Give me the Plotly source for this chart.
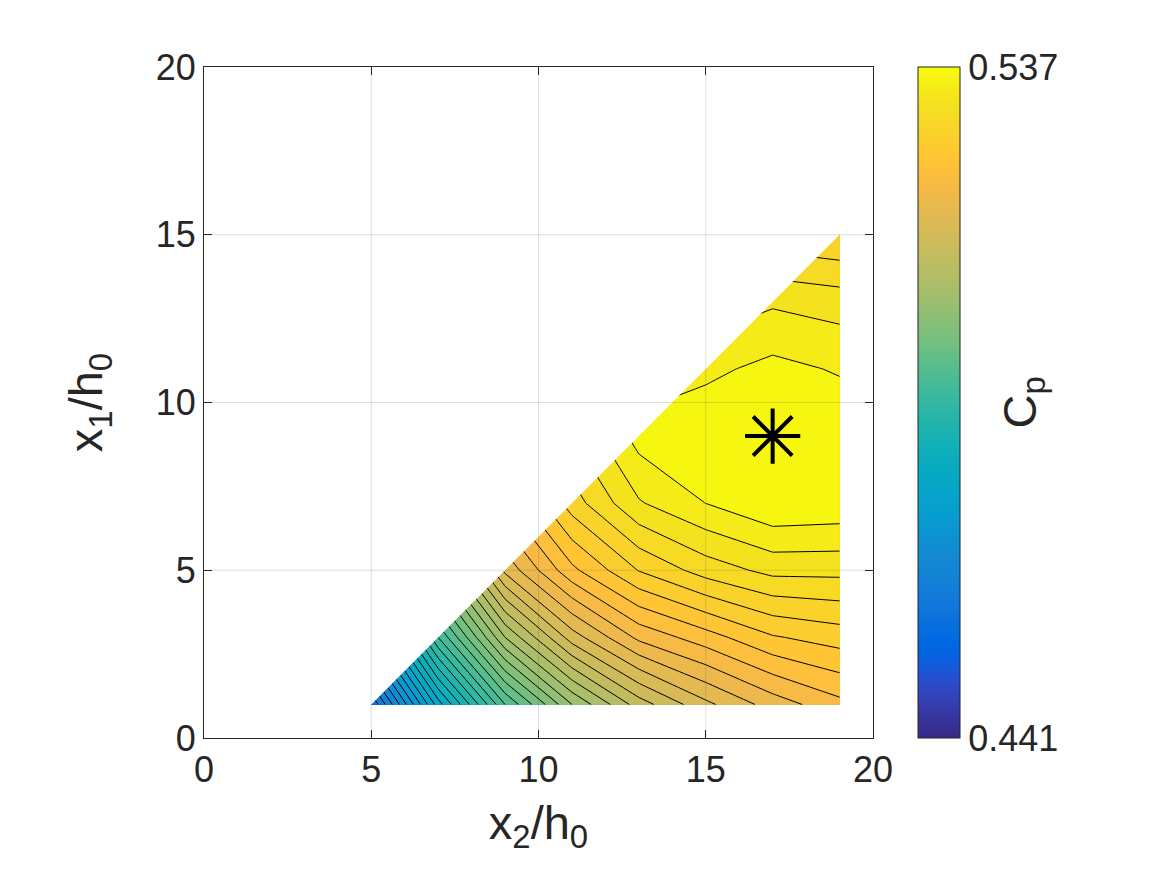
import numpy as np
import plotly.graph_objects as go

# ---------------- data ----------------
X2 = [5, 7, 9, 11, 13, 15, 17, 19]          # x2/h0 grid
X1 = [1, 3, 5, 7, 9, 11, 13, 15]            # x1/h0 grid
# Cp values, one row per x1 value, columns follow X2 (None = outside domain)
CP_X1_1 = [0.4590, 0.4780, 0.4930, 0.5030, 0.5100, 0.5145, 0.5179, 0.5204]
CP_X1_3 = [None, 0.4910, 0.5050, 0.5140, 0.5195, 0.5221, 0.5248, 0.5259]
CP_X1_5 = [None, None, 0.5155, 0.5225, 0.5271, 0.5299, 0.5316, 0.5316]
CP_X1_7 = [None, None, None, 0.5280, 0.5328, 0.53502, 0.5368, 0.5365]
CP_X1_9 = [None, None, None, None, 0.5358, 0.5366, 0.5369, 0.5366]
CP_X1_11 = [None, None, None, None, None, 0.5345, 0.5356, 0.5348]
CP_X1_13 = [None, None, None, None, None, None, 0.5327, 0.5321]
CP_X1_15 = [None, None, None, None, None, None, None, 0.5271]

AXIS_TICKS = [0, 5, 10, 15, 20]
CBAR_TICKS = [0.441, 0.537]
LEVEL_STEP = 0.002

CP = [CP_X1_1, CP_X1_3, CP_X1_5, CP_X1_7, CP_X1_9, CP_X1_11, CP_X1_13, CP_X1_15]

PARULA = [
    [0.2081, 0.1663, 0.5292], [0.2116, 0.1898, 0.5777], [0.2123, 0.2138, 0.6270], [0.2081, 0.2386, 0.6771],
    [0.1959, 0.2645, 0.7279], [0.1707, 0.2919, 0.7792], [0.1253, 0.3242, 0.8303], [0.0591, 0.3598, 0.8683],
    [0.0117, 0.3875, 0.8820], [0.0060, 0.4086, 0.8828], [0.0165, 0.4266, 0.8786], [0.0329, 0.4430, 0.8720],
    [0.0498, 0.4586, 0.8641], [0.0629, 0.4737, 0.8554], [0.0723, 0.4887, 0.8467], [0.0779, 0.5040, 0.8384],
    [0.0793, 0.5200, 0.8312], [0.0749, 0.5375, 0.8263], [0.0641, 0.5570, 0.8240], [0.0488, 0.5772, 0.8228],
    [0.0343, 0.5966, 0.8199], [0.0265, 0.6137, 0.8135], [0.0239, 0.6287, 0.8038], [0.0231, 0.6418, 0.7913],
    [0.0228, 0.6535, 0.7768], [0.0267, 0.6642, 0.7607], [0.0384, 0.6743, 0.7436], [0.0590, 0.6838, 0.7254],
    [0.0843, 0.6928, 0.7062], [0.1133, 0.7015, 0.6859], [0.1453, 0.7098, 0.6646], [0.1801, 0.7177, 0.6424],
    [0.2178, 0.7250, 0.6193], [0.2586, 0.7317, 0.5954], [0.3022, 0.7376, 0.5712], [0.3482, 0.7424, 0.5473],
    [0.3953, 0.7459, 0.5244], [0.4420, 0.7481, 0.5033], [0.4871, 0.7491, 0.4840], [0.5300, 0.7491, 0.4661],
    [0.5709, 0.7485, 0.4494], [0.6099, 0.7473, 0.4337], [0.6473, 0.7456, 0.4188], [0.6834, 0.7435, 0.4044],
    [0.7184, 0.7411, 0.3905], [0.7525, 0.7384, 0.3768], [0.7858, 0.7356, 0.3633], [0.8185, 0.7327, 0.3498],
    [0.8507, 0.7299, 0.3360], [0.8824, 0.7274, 0.3217], [0.9139, 0.7258, 0.3063], [0.9450, 0.7261, 0.2886],
    [0.9739, 0.7314, 0.2666], [0.9938, 0.7455, 0.2403], [0.9990, 0.7653, 0.2164], [0.9955, 0.7861, 0.1967],
    [0.9880, 0.8066, 0.1794], [0.9789, 0.8271, 0.1633], [0.9697, 0.8481, 0.1475], [0.9626, 0.8705, 0.1309],
    [0.9589, 0.8949, 0.1132], [0.9598, 0.9218, 0.0948], [0.9661, 0.9514, 0.0755], [0.9763, 0.9831, 0.0538],
]
n = len(PARULA)
colorscale = [[i / (n - 1), "rgb(%d,%d,%d)" % tuple(int(round(c * 255)) for c in rgb)]
              for i, rgb in enumerate(PARULA)]

zmin, zmax = CBAR_TICKS[0], CBAR_TICKS[-1]
Z = np.array([[np.nan if v is None else v for v in row] for row in CP], dtype=float)

# Rendering aid (hidden under the mask): for the cells cut by the diagonal edge,
# give the masked corner the value of the plane through the 3 valid corners, so the
# visible half-cell is interpolated linearly on its triangle (as MATLAB does).
Zr = Z.copy()
for i in range(1, Z.shape[0]):
    for j in range(Z.shape[1] - 1):
        if np.isnan(Z[i, j]) and not np.isnan(Z[i - 1, j]) and not np.isnan(Z[i, j + 1]) \
                and not np.isnan(Z[i - 1, j + 1]):
            Zr[i, j] = Z[i - 1, j] + Z[i, j + 1] - Z[i - 1, j + 1]

AX_COLOR = "#262626"
FONT = "Liberation Sans, Arial, Helvetica, sans-serif"
TICK_SIZE = 36
LABEL_SIZE = 47

fig = go.Figure()

fig.add_trace(go.Contour(
    x=X2, y=X1, z=Zr,
    connectgaps=True,
    zmin=zmin, zmax=zmax, zauto=False,
    colorscale=colorscale,
    contours=dict(start=zmin, end=zmax, size=LEVEL_STEP, coloring="fill", showlines=True),
    line=dict(color="black", width=1, smoothing=0),
    showscale=False,
    hoverinfo="skip",
))

# white mask above the diagonal edge of the (triangular) data domain
xl, xh, yl, yh = X2[0], X2[-1], X1[0], X1[-1]
pad = 0.1 * (X2[1] - X2[0])
fig.add_trace(go.Scatter(
    x=[xl, xh, xh, xl - pad, xl - pad, xl],
    y=[yl, yh, yh + pad, yh + pad, yl, yl],
    mode="lines", fill="toself", fillcolor="white",
    line=dict(width=0, color="white"), hoverinfo="skip", showlegend=False,
))

# optimum marker at the maximum Cp
iy, ix = np.unravel_index(np.nanargmax(Z), Z.shape)
fig.add_trace(go.Scatter(
    x=[X2[ix]], y=[X1[iy]], mode="markers",
    marker=dict(symbol="asterisk-open", size=46, color="black",
                line=dict(color="black", width=4)),
    hoverinfo="skip", showlegend=False,
))

# colorbar carrier
fig.add_trace(go.Scatter(
    x=[X2[ix]], y=[X1[iy]], mode="markers",
    marker=dict(size=1, opacity=0, color=[Z[iy, ix]], colorscale=colorscale,
                cmin=zmin, cmax=zmax, showscale=True,
                colorbar=dict(
                    x=1 + 45 / 669, xanchor="left", xpad=0,
                    y=0.5, yanchor="middle", len=1, lenmode="fraction", ypad=0,
                    thickness=42, outlinewidth=1, outlinecolor=AX_COLOR,
                    tickvals=CBAR_TICKS, ticktext=["%.3f" % v for v in CBAR_TICKS],
                    ticks="", tickfont=dict(family=FONT, size=TICK_SIZE, color=AX_COLOR),
                )),
    hoverinfo="skip", showlegend=False,
))

# grid lines drawn on top (MATLAB-like)
shapes = []
for t in AXIS_TICKS[1:-1]:
    shapes.append(dict(type="line", xref="x", yref="y domain", x0=t, x1=t, y0=0, y1=1,
                       line=dict(color="rgba(38,38,38,0.15)", width=1), layer="above"))
    shapes.append(dict(type="line", xref="x domain", yref="y", x0=0, x1=1, y0=t, y1=t,
                       line=dict(color="rgba(38,38,38,0.15)", width=1), layer="above"))

axis_common = dict(
    range=[AXIS_TICKS[0], AXIS_TICKS[-1]], tickvals=AXIS_TICKS,
    ticks="inside", ticklen=8, tickwidth=1, tickcolor=AX_COLOR,
    showline=True, linecolor=AX_COLOR, linewidth=1, mirror="ticks",
    showgrid=False, zeroline=False,
    tickfont=dict(family=FONT, size=TICK_SIZE, color=AX_COLOR),
)

fig.update_layout(
    width=1167, height=875,
    margin=dict(l=204, r=294, t=67, b=137),
    paper_bgcolor="white", plot_bgcolor="white",
    showlegend=False,
    shapes=shapes,
    xaxis=dict(**axis_common,
               title=dict(text="x<sub>2</sub>/h<sub>0</sub>", standoff=16,
                          font=dict(family=FONT, size=LABEL_SIZE, color=AX_COLOR))),
    yaxis=dict(**axis_common,
               title=dict(text="x<sub>1</sub>/h<sub>0</sub>", standoff=38,
                          font=dict(family=FONT, size=LABEL_SIZE, color=AX_COLOR))),
    annotations=[dict(
        text="C<sub>p</sub>", xref="paper", yref="paper",
        x=1 + (1022 - 873) / 669, y=0.5, xanchor="center", yanchor="middle",
        textangle=-90, showarrow=False,
        font=dict(family=FONT, size=LABEL_SIZE, color=AX_COLOR),
    )],
)

fig.write_html("out.html")
